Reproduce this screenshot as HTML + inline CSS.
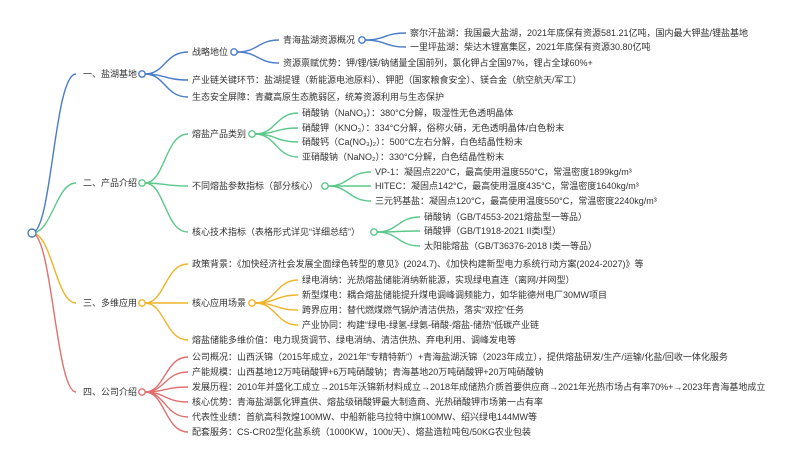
<!DOCTYPE html>
<html><head><meta charset="utf-8"><style>
html,body{margin:0;padding:0;background:#fff;}
svg{display:block;}
text{font-family:"Liberation Sans","Noto Sans CJK SC",sans-serif;font-size:9px;fill:#333;dominant-baseline:central;}
</style></head><body>
<svg width="800" height="461" viewBox="0 0 800 461" xmlns="http://www.w3.org/2000/svg">
<g fill="none" stroke-width="1.4">
<path d="M32 233 C52 233 54 74 76 74" stroke="#4a7cc7"/>
<path d="M32 233 C52 233 56 183 76 183" stroke="#5cc98a"/>
<path d="M32 233 C52 233 56 303 76 303" stroke="#f0b429"/>
<path d="M32 233 C52 233 56 392 76 392" stroke="#e07070"/>
<g stroke="#4a7cc7">
<path d="M145 74 C165 74 165 52 188 52"/>
<path d="M145 74 C165 74 165 80 188 80"/>
<path d="M145 74 C165 74 165 97 188 97"/>
<path d="M237 52 C258 52 258 40 279 40"/>
<path d="M237 52 C258 52 258 63 279 63"/>
<path d="M365 40 C385 40 385 33 406 33"/>
<path d="M365 40 C385 40 385 47 406 47"/>
</g>
<g stroke="#5cc98a">
<path d="M145 183 C165 183 165 134 188 134"/>
<path d="M145 183 C165 183 165 186 188 186"/>
<path d="M145 183 C165 183 165 232 188 232"/>
<path d="M255 134 C276 134 276 113 298 113"/>
<path d="M255 134 C276 134 276 128 298 128"/>
<path d="M255 134 C276 134 276 142 298 142"/>
<path d="M255 134 C276 134 276 157 298 157"/>
<path d="M328 186 C349 186 349 172 371 172"/>
<path d="M328 186 C349 186 349 186 371 186"/>
<path d="M328 186 C349 186 349 201 371 201"/>
<path d="M377 232 C398 232 398 217 420 217"/>
<path d="M377 232 C398 232 398 231 420 231"/>
<path d="M377 232 C398 232 398 246 420 246"/>
</g>
<g stroke="#f0b429">
<path d="M145 303 C165 303 165 264 188 264"/>
<path d="M145 303 C165 303 165 303 188 303"/>
<path d="M145 303 C165 303 165 340 188 340"/>
<path d="M255 303 C276 303 276 280 298 280"/>
<path d="M255 303 C276 303 276 295 298 295"/>
<path d="M255 303 C276 303 276 310 298 310"/>
<path d="M255 303 C276 303 276 325 298 325"/>
</g>
<g stroke="#e07070">
<path d="M145 392 C165 392 165 357 188 357"/>
<path d="M145 392 C165 392 165 372 188 372"/>
<path d="M145 392 C165 392 165 387 188 387"/>
<path d="M145 392 C165 392 165 402 188 402"/>
<path d="M145 392 C165 392 165 417 188 417"/>
<path d="M145 392 C165 392 165 432 188 432"/>
</g>
</g>
<g fill="#fff" stroke-width="1.4">
<circle cx="32" cy="233" r="4" stroke="#4a7cc7"/>
<circle cx="142" cy="74" r="3.2" stroke="#4a7cc7"/>
<circle cx="234" cy="52" r="3.2" stroke="#4a7cc7"/>
<circle cx="362" cy="40" r="3.2" stroke="#4a7cc7"/>
<circle cx="142" cy="183" r="3.2" stroke="#5cc98a"/>
<circle cx="252" cy="134" r="3.2" stroke="#5cc98a"/>
<circle cx="325" cy="186" r="3.2" stroke="#5cc98a"/>
<circle cx="374" cy="232" r="3.2" stroke="#5cc98a"/>
<circle cx="142" cy="303" r="3.2" stroke="#f0b429"/>
<circle cx="252" cy="303" r="3.2" stroke="#f0b429"/>
<circle cx="142" cy="392" r="3.2" stroke="#e07070"/>
</g>
<text x="83" y="74">一、盐湖基地</text>
<text x="192" y="52">战略地位</text>
<text x="283" y="40">青海盐湖资源概况</text>
<text x="410" y="33">察尔汗盐湖：我国最大盐湖，2021年底保有资源581.21亿吨，国内最大钾盐/锂盐基地</text>
<text x="410" y="47">一里坪盐湖：柴达木锂富集区，2021年底保有资源30.80亿吨</text>
<text x="283" y="63">资源禀赋优势：钾/锂/镁/钠储量全国前列，氯化钾占全国97%，锂占全球60%+</text>
<text x="192" y="80">产业链关键环节：盐湖提锂（新能源电池原料）、钾肥（国家粮食安全）、镁合金（航空航天/军工）</text>
<text x="192" y="97">生态安全屏障：青藏高原生态脆弱区，统筹资源利用与生态保护</text>

<text x="83" y="183">二、产品介绍</text>
<text x="192" y="134">熔盐产品类别</text>
<text x="302" y="113">硝酸钠（NaNO₃）：380°C分解，吸湿性无色透明晶体</text>
<text x="302" y="128">硝酸钾（KNO₃）：334°C分解，俗称火硝，无色透明晶体/白色粉末</text>
<text x="302" y="142">硝酸钙（Ca(NO₃)₂）：500°C左右分解，白色结晶性粉末</text>
<text x="302" y="157">亚硝酸钠（NaNO₂）：330°C分解，白色结晶性粉末</text>
<text x="192" y="186">不同熔盐参数指标（部分核心）</text>
<text x="375" y="172">VP-1：凝固点220°C，最高使用温度550°C，常温密度1899kg/m³</text>
<text x="375" y="186">HITEC：凝固点142°C，最高使用温度435°C，常温密度1640kg/m³</text>
<text x="375" y="201">三元钙基盐：凝固点120°C，最高使用温度550°C，常温密度2240kg/m³</text>
<text x="192" y="232">核心技术指标（表格形式详见“详细总结”）</text>
<text x="424" y="217">硝酸钠（GB/T4553-2021熔盐型一等品）</text>
<text x="424" y="231">硝酸钾（GB/T1918-2021 II类I型）</text>
<text x="424" y="246">太阳能熔盐（GB/T36376-2018 I类一等品）</text>

<text x="83" y="303">三、多维应用</text>
<text x="192" y="264">政策背景：《加快经济社会发展全面绿色转型的意见》(2024.7)、《加快构建新型电力系统行动方案(2024-2027)》等</text>
<text x="192" y="303">核心应用场景</text>
<text x="302" y="280">绿电消纳：光热熔盐储能消纳新能源，实现绿电直连（离网/并网型）</text>
<text x="302" y="295">新型煤电：耦合熔盐储能提升煤电调峰调频能力，如华能德州电厂30MW项目</text>
<text x="302" y="310">跨界应用：替代燃煤燃气锅炉清洁供热，落实“双控”任务</text>
<text x="302" y="325">产业协同：构建“绿电-绿氢-绿氨-硝酸-熔盐-储热”低碳产业链</text>
<text x="192" y="340">熔盐储能多维价值：电力现货调节、绿电消纳、清洁供热、弃电利用、调峰发电等</text>

<text x="83" y="392">四、公司介绍</text>
<text x="192" y="357">公司概况：山西沃锦（2015年成立，2021年“专精特新”）+青海盐湖沃锦（2023年成立），提供熔盐研发/生产/运输/化盐/回收一体化服务</text>
<text x="192" y="372">产能规模：山西基地12万吨硝酸钾+6万吨硝酸钠；青海基地20万吨硝酸钾+20万吨硝酸钠</text>
<text x="192" y="387">发展历程：2010年并盛化工成立→2015年沃锦新材料成立→2018年成储热介质首要供应商→2021年光热市场占有率70%+→2023年青海基地成立</text>
<text x="192" y="402">核心优势：青海盐湖氯化钾直供、熔盐级硝酸钾最大制造商、光热硝酸钾市场第一占有率</text>
<text x="192" y="417">代表性业绩：首航高科敦煌100MW、中船新能乌拉特中旗100MW、绍兴绿电144MW等</text>
<text x="192" y="432">配套服务：CS-CR02型化盐系统（1000KW，100t/天）、熔盐造粒吨包/50KG农业包装</text>
</svg>
</body></html>
